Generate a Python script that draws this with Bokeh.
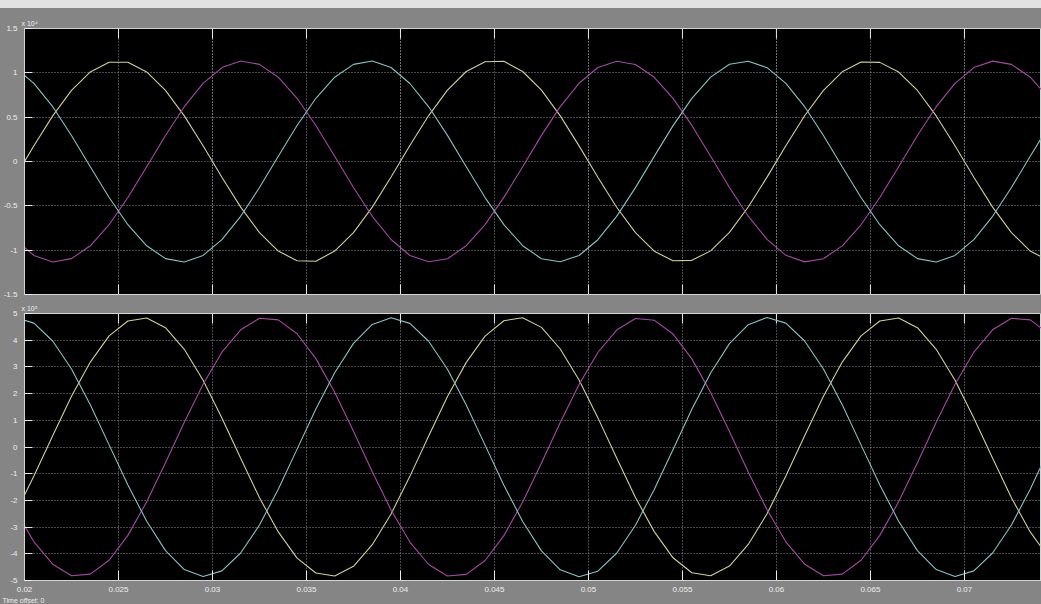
from bokeh.plotting import figure
from bokeh.models import (Range1d, SingleIntervalTicker, CustomJSTickFormatter,
                          Grid, Title, Div)
from bokeh.layouts import column
from bokeh.embed import file_html
from bokeh.resources import INLINE

# ---- sampled scope data (fixed-step 1 ms samples) ----
t = [0.0195, 0.0205, 0.0215, 0.0225, 0.0235, 0.0245, 0.0255, 0.0265, 0.0275, 0.0285,
     0.0295, 0.0305, 0.0315, 0.0325, 0.0335, 0.0345, 0.0355, 0.0365, 0.0375, 0.0385,
     0.0395, 0.0405, 0.0415, 0.0425, 0.0435, 0.0445, 0.0455, 0.0465, 0.0475, 0.0485,
     0.0495, 0.0505, 0.0515, 0.0525, 0.0535, 0.0545, 0.0555, 0.0565, 0.0575, 0.0585,
     0.0595, 0.0605, 0.0615, 0.0625, 0.0635, 0.0645, 0.0655, 0.0665, 0.0675, 0.0685,
     0.0695, 0.0705, 0.0715, 0.0725, 0.0735, 0.0745]

# upper scope: three phase currents
ia = [-1770, 1770, 5150, 8020, 10100, 11200, 11200, 10100, 8020, 5150,
      1770, -1770, -5150, -8020, -10100, -11200, -11250, -10100, -8020, -5150,
      -1750, 1800, 5180, 8050, 10150, 11250, 11300, 10150, 8050, 5150,
      1760, -1780, -5160, -8030, -10120, -11200, -11150, -10080, -8000, -5130,
      -1760, 1780, 5160, 8030, 10110, 11220, 11180, 10090, 8010, 5140,
      1770, -1770, -5150, -8020, -10100, -11200]
ib = [-8810, -10590, -11330, -10950, -9510, -7130, -4060, -590, 2940, 6180,
      8810, 10590, 11330, 10950, 9510, 7130, 4060, 590, -2940, -6180,
      -8800, -10600, -11300, -10970, -9500, -7120, -4050, -600, 2950, 6190,
      8820, 10600, 11300, 10940, 9500, 7120, 4070, 600, -2930, -6170,
      -8790, -10580, -11320, -10960, -9520, -7140, -4060, -590, 2940, 6180,
      8810, 10590, 11320, 10950, 9510, 7130]
ic = [10590, 8810, 6180, 2940, -590, -4060, -7130, -9510, -10950, -11330,
      -10590, -8810, -6180, -2940, 590, 4060, 7130, 9510, 10950, 11330,
      10600, 8800, 6170, 2950, -600, -4070, -7120, -9500, -10960, -11300,
      -10600, -8820, -6190, -2950, 580, 4050, 7120, 9520, 10960, 11310,
      10580, 8810, 6180, 2940, -590, -4060, -7130, -9510, -10950, -11330,
      -10590, -8810, -6180, -2940, 590, 4060]

# lower scope: three phase voltages
va = [-250000, -109000, 42000, 190000, 318000, 416000, 472000, 483000, 447000, 366000,
      250000, 109000, -42000, -190000, -318000, -416000, -472000, -483000, -447000, -366000,
      -251000, -110000, 41000, 189000, 317000, 415000, 473000, 484000, 448000, 367000,
      251000, 110000, -41000, -189000, -317000, -415000, -471000, -482000, -446000, -365000,
      -250000, -109000, 42000, 190000, 318000, 416000, 472000, 483000, 447000, 366000,
      250000, 109000, -42000, -190000, -318000, -416000]
vb = [-235000, -355000, -439000, -482000, -476000, -424000, -331000, -205000, -59000, 93000,
      235000, 355000, 439000, 482000, 476000, 424000, 331000, 205000, 59000, -93000,
      -236000, -356000, -440000, -483000, -477000, -425000, -332000, -206000, -60000, 92000,
      234000, 354000, 438000, 481000, 475000, 423000, 330000, 204000, 58000, -94000,
      -235000, -355000, -439000, -482000, -476000, -424000, -331000, -205000, -59000, 93000,
      235000, 355000, 439000, 482000, 476000, 424000]
vc = [485000, 464000, 397000, 292000, 158000, 8000, -142000, -278000, -388000, -459000,
      -485000, -464000, -397000, -292000, -158000, -8000, 142000, 278000, 388000, 459000,
      484000, 463000, 396000, 291000, 157000, 7000, -143000, -279000, -389000, -460000,
      -486000, -465000, -398000, -293000, -159000, -9000, 141000, 277000, 387000, 458000,
      485000, 464000, 397000, 292000, 158000, 8000, -142000, -278000, -388000, -459000,
      -485000, -464000, -397000, -292000, -158000, -8000]

# time-axis tick positions
x_ticks = [0.02, 0.025, 0.03, 0.035, 0.04, 0.045, 0.05, 0.055, 0.06, 0.065, 0.07]

# ---- styling ----
WIN_W = 1041
BG = "#858585"
FRAME = "#d4d4d4"
TICK = "#e8e8e8"
TXT = "#eeeeee"
FONT = "Liberation Sans"
COL_A = "#d0d09c"
COL_B = "#a44aa4"
COL_C = "#8ac2c2"

x_range = Range1d(0.02, 0.0741)
x_fmt = CustomJSTickFormatter(code="return String(parseFloat(tick.toFixed(4)));")


def scope(height, y_lim, y_step, y_scale, frame_h, top_border, bottom_border,
          exponent, time_axis):
    p = figure(width=WIN_W, height=height, x_range=x_range,
               y_range=Range1d(-y_lim, y_lim),
               x_axis_location="below" if time_axis else None,
               output_backend="svg", toolbar_location=None,
               background_fill_color="black", border_fill_color=BG,
               outline_line_color=FRAME, outline_line_width=1,
               min_border_left=24, min_border_right=0,
               min_border_top=top_border, min_border_bottom=bottom_border)
    xt = SingleIntervalTicker(interval=0.005)
    yt = SingleIntervalTicker(interval=y_step)

    # y axis with inward ticks
    ya = p.yaxis[0]
    ya.ticker = yt
    ya.formatter = CustomJSTickFormatter(
        code=f"return String(parseFloat((tick/{y_scale}).toFixed(3)));")
    ya.major_tick_in = 8
    ya.major_tick_out = 0
    ya.minor_tick_line_color = None
    ya.major_tick_line_color = TICK
    ya.axis_line_color = FRAME
    ya.major_label_text_color = TXT
    ya.major_label_text_font = FONT
    ya.major_label_text_font_size = "8px"
    ya.major_label_standoff = 3
    p.ygrid.ticker = yt

    if time_axis:
        xa = p.xaxis[0]
        xa.ticker = xt
        xa.formatter = x_fmt
        xa.major_tick_in = 10
        xa.major_tick_out = 0
        xa.minor_tick_line_color = None
        xa.major_tick_line_color = TICK
        xa.axis_line_color = FRAME
        xa.major_label_text_color = TXT
        xa.major_label_text_font = FONT
        xa.major_label_text_font_size = "8px"
        xa.major_label_standoff = 2
        p.xgrid.ticker = xt
    else:
        p.add_layout(Grid(dimension=0, ticker=xt))

    p.grid.grid_line_color = "#a0a0a0"
    p.grid.grid_line_dash = "1 2"
    p.grid.grid_line_alpha = 0.9

    # inward tick marks along the top (and bottom, when there is no time axis)
    tick_len = 10 * (2 * y_lim) / frame_h
    p.segment(x0=x_ticks, y0=[y_lim] * len(x_ticks),
              x1=x_ticks, y1=[y_lim - tick_len] * len(x_ticks),
              line_color=TICK, line_width=1)
    if not time_axis:
        p.segment(x0=x_ticks, y0=[-y_lim] * len(x_ticks),
                  x1=x_ticks, y1=[-y_lim + tick_len] * len(x_ticks),
                  line_color=TICK, line_width=1)

    # axis exponent, above the y axis
    p.add_layout(Title(text=f"x 10{exponent}", align="left", offset=-3,
                       text_font=FONT, text_font_size="7px",
                       text_font_style="normal", text_color=TXT, standoff=4),
                 "above")
    return p


top = scope(292, 15000, 5000, 10000, 266, 20, 6, "\u2074", False)
bot = scope(304, 500000, 100000, 100000, 267, 13, 24, "\u2075", True)

for p, series in ((top, (ia, ib, ic)), (bot, (va, vb, vc))):
    for ys, col in zip(series, (COL_A, COL_B, COL_C)):
        p.line(t, ys, line_color=col, line_width=1.1)

bot.add_layout(Title(text="Time offset:  0", align="left", offset=-22,
                     text_font=FONT, text_font_size="7px",
                     text_font_style="normal", text_color=TXT, standoff=0),
               "below")

strip = Div(width=WIN_W, height=8,
            styles={"background-color": "#e2e2e2", "margin": "0"})

layout = column(strip, top, bot, spacing=0, styles={"background-color": BG})

open("out.html", "w").write(file_html(layout, INLINE))
